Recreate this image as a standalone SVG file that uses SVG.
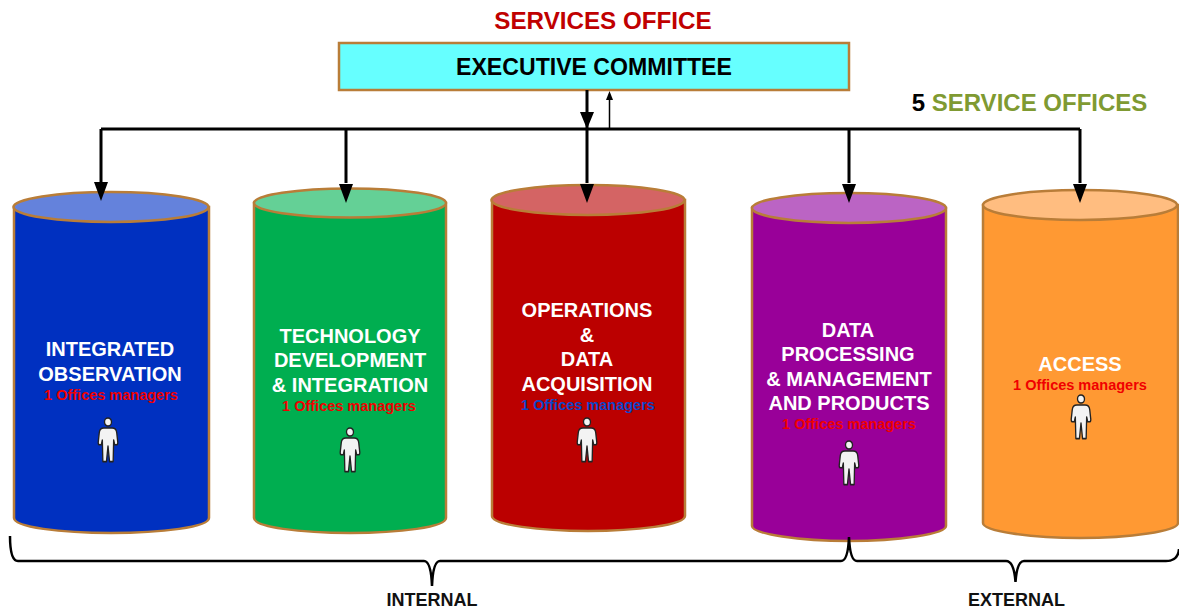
<svg xmlns="http://www.w3.org/2000/svg" width="1179" height="615" viewBox="0 0 1179 615">
<style>
text{font-family:"Liberation Sans",Arial,sans-serif;font-weight:bold;text-anchor:middle}
.b{stroke:#b97d38;stroke-width:2.5}
.t{fill:#fff;font-size:20px}
.m{font-size:14.5px;fill:#f00000}
.line{fill:none;stroke:#000;stroke-width:3}
.brace{fill:none;stroke:#000;stroke-width:2.5}
.p{fill:#f3f3f3;stroke:#222;stroke-width:1.3;stroke-linejoin:round}
</style>
<defs>
<g id="person">
<circle cx="0" cy="-15" r="3.4" class="p"/>
<path class="p" d="M-4-10H4Q8-10 8.500-6L9.500 2Q9.500 4 8 4L6.500 4 5.500 0 5 18H1.500L0 5-1.500 18H-5L-5.500 0-6.500 4-8 4Q-9.500 4-9.500 2L-8.500-6Q-8-10-4-10Z"/>
</g>
</defs>
<rect width="1179" height="615" fill="#fff"/>
<text x="603" y="29" font-size="24.200" fill="#c00000">SERVICES OFFICE</text>
<g id="exec"><rect x="339" y="43" width="510" height="47" fill="#66ffff" stroke="#b97d38" stroke-width="2.500"/>
<text x="594" y="75" font-size="23.100" fill="#000">EXECUTIVE COMMITTEE</text></g>
<text x="1029.500" y="111" font-size="24"><tspan fill="#000">5 </tspan><tspan fill="#7f9a32">SERVICE OFFICES</tspan></text>
<g id="c1"><path d="M14 207V518C14 527 60 533 111 533S209 527 209 518V207Z" fill="#0030c0" stroke="#b97d38" stroke-width="2.500"/><ellipse cx="111" cy="207" rx="97.500" ry="15" fill="#6482dc" class="b"/>
<text class="t" x="110" y="356">INTEGRATED</text><text class="t" x="110" y="381">OBSERVATION</text><text class="m" x="111" y="400">1 Offices managers</text><use href="#person" transform="translate(108 440) scale(1.03 1.2)"/></g>
<g id="c2"><path d="M254 203V518C254 527 300 533 350 533S446 527 446 518V203Z" fill="#00ae50" stroke="#b97d38" stroke-width="2.500"/><ellipse cx="350" cy="203" rx="96" ry="14.500" fill="#64d096" class="b"/>
<text class="t" x="350" y="343">TECHNOLOGY</text><text class="t" x="350" y="367">DEVELOPMENT</text><text class="t" x="350" y="392">&amp; INTEGRATION</text><text class="m" x="349" y="411">1 Offices managers</text><use href="#person" transform="translate(350 450) scale(1.03 1.2)"/></g>
<g id="c3"><path d="M492 200V516C492 525 540 531 588 531S685 525 685 516V200Z" fill="#bb0000" stroke="#b97d38" stroke-width="2.500"/><ellipse cx="588" cy="200" rx="96.500" ry="15" fill="#d46464" class="b"/>
<text class="t" x="587" y="317">OPERATIONS</text><text class="t" x="587" y="342">&amp;</text><text class="t" x="587" y="366">DATA</text><text class="t" x="587" y="391">ACQUISITION</text><text class="m" x="588" y="410" style="fill:#0b45c8">1 Offices managers</text><use href="#person" transform="translate(587 440) scale(1.03 1.2)"/></g>
<g id="c4"><path d="M752 208V526C752 534 800 541 849 541S946 534 946 526V208Z" fill="#990099" stroke="#b97d38" stroke-width="2.500"/><ellipse cx="849" cy="208" rx="97" ry="15" fill="#bb64c4" class="b"/>
<text class="t" x="848" y="337">DATA</text><text class="t" x="848" y="361">PROCESSING</text><text class="t" x="849" y="386">&amp; MANAGEMENT</text><text class="t" x="849" y="410">AND PRODUCTS</text><text class="m" x="849" y="429">1 Offices managers</text><use href="#person" transform="translate(849 463) scale(1.03 1.2)"/></g>
<g id="c5"><path d="M983 205V523C983 531 1030 538 1080 538S1178 531 1178 523V205Z" fill="#ff9933" stroke="#b97d38" stroke-width="2.500"/><ellipse cx="1080" cy="205" rx="97" ry="15" fill="#ffbd80" class="b"/>
<text class="t" x="1080" y="371">ACCESS</text><text class="m" x="1080" y="390">1 Offices managers</text><use href="#person" transform="translate(1081 417) scale(1.03 1.2)"/></g>
<g id="connectors">
<path class="line" d="M101 129H1080"/>
<path class="line" d="M101 129V183M346 129V183M587 90V183M849 129V183M1080 129V183"/>
<path d="M101 201L94 182H108ZM346 203L339 184H353ZM587 203L580 184H594ZM849 203L842 184H856ZM1080 203L1073 184H1087ZM587 129L580 112H594Z" fill="#000"/>
<path d="M609.500 129V100" stroke="#000" stroke-width="1.500" fill="none"/>
<path d="M609.500 91L606 100H613Z" fill="#000"/>
<path class="brace" d="M10 536Q10 561 18 561H424Q431 561 432 586Q433 561 440 561H841Q848 561 849 537Q850 561 857 561H1006Q1014 561 1015.500 582Q1017 561 1024 561H1166Q1178 561 1179 549"/>
</g>
<text x="432" y="606" font-size="18" fill="#111">INTERNAL</text>
<text x="1016.500" y="606" font-size="18" fill="#111">EXTERNAL</text>
</svg>
